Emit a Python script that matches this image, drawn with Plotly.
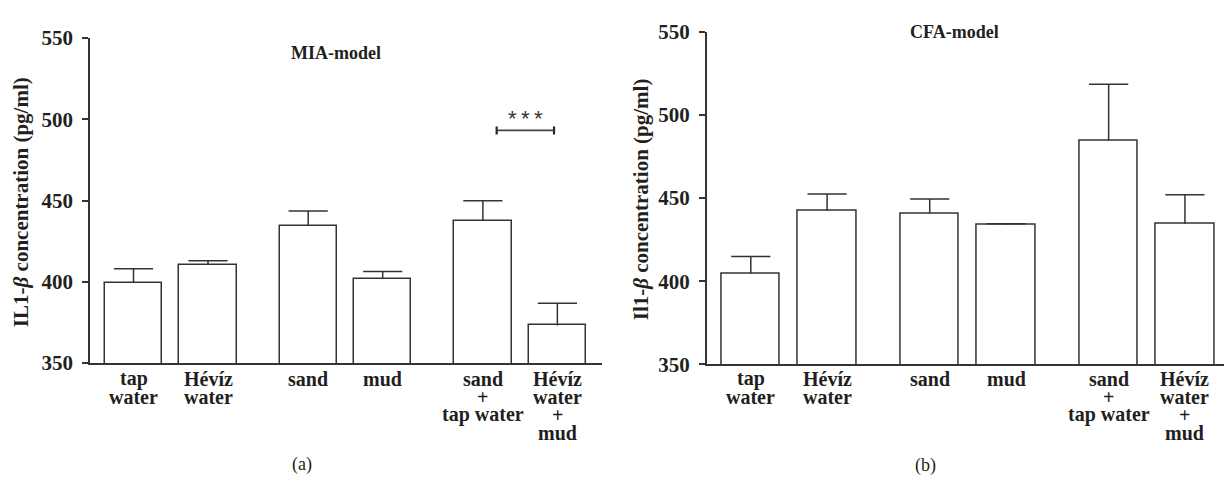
import plotly.graph_objects as go

# ---------------- data ----------------
categories = ["tap\nwater", "Hévíz\nwater", "sand", "mud", "sand\n+\ntap water", "Hévíz\nwater\n+\nmud"]
mia_values = [399.3, 410.6, 434.4, 401.8, 437.7, 373.2]
mia_errors = [8.8, 2.3, 9.2, 4.5, 12.1, 13.6]
cfa_values = [404.7, 442.4, 440.7, 433.8, 484.5, 434.6]
cfa_errors = [10.1, 10.1, 8.7, 0.8, 33.9, 17.4]
y_ticks = [350, 400, 450, 500, 550]
sig_level = 493.1
sig_label = "*\u2009*\u2009*"

# ---------------- layout helpers ----------------
W, H = 1224, 487
group_step = 2.345
xpos = [g * group_step + m for g in range(3) for m in range(2)]
TEXT = "#231f20"
LINE = "#333333"
SERIF = "Liberation Serif"

fig = go.Figure()

def add_panel(values, errors, xa, ya):
    fig.add_trace(go.Bar(
        x=xpos, y=values, width=0.77, xaxis=xa, yaxis=ya,
        marker=dict(color="white", line=dict(color=LINE, width=1.5)),
        showlegend=False, hoverinfo="skip"))
    tops = [v + e for v, e in zip(values, errors)]
    # vertical whisker (no caps) from bar top up to mean+SE
    fig.add_trace(go.Scatter(
        x=xpos, y=tops, mode="markers", xaxis=xa, yaxis=ya,
        marker=dict(symbol="line-ew", size=28, color=LINE,
                    line=dict(color=LINE, width=1.5)),
        error_y=dict(type="data", symmetric=False, array=[0] * len(errors),
                     arrayminus=errors, width=0, thickness=1.5, color=LINE),
        showlegend=False, hoverinfo="skip"))

add_panel(mia_values, mia_errors, "x", "y")
add_panel(cfa_values, cfa_errors, "x2", "y2")

# significance bracket (MIA panel)
sig_x = [xpos[4] + 0.185, xpos[5] - 0.045]
fig.add_trace(go.Scatter(
    x=sig_x, y=[sig_level, sig_level], mode="lines", xaxis="x", yaxis="y",
    line=dict(color="#444", width=1.8),
    error_y=dict(type="data", array=[2.5, 2.5], width=0, thickness=2.2, color="#222"),
    showlegend=False, hoverinfo="skip"))

def px2py(p):
    return 1 - p / H

xaxis_common = dict(showline=True, linecolor=LINE, linewidth=1.5, showgrid=False,
                    zeroline=False, showticklabels=False, ticks="", fixedrange=True)
yaxis_common = dict(showline=True, linecolor=LINE, linewidth=1.5, showgrid=False,
                    zeroline=False, ticks="outside", ticklen=6, tickwidth=1.5,
                    tickcolor=LINE, tickvals=y_ticks, range=[350, 550],
                    ticklabelstandoff=5,
                    tickfont=dict(family=SERIF, size=21, color=TEXT, weight="bold"))

fig.update_layout(
    width=W, height=H, margin=dict(l=0, r=0, t=0, b=0),
    paper_bgcolor="white", plot_bgcolor="white",
    bargap=0,
    xaxis=dict(domain=[90 / W, 601.7 / W], range=[-0.584, 6.285], anchor="y", **xaxis_common),
    yaxis=dict(domain=[px2py(369.3), px2py(27.3)], anchor="x", **yaxis_common),
    xaxis2=dict(domain=[706.7 / W, 1.0], range=[-0.578, 6.202], anchor="y2", **xaxis_common),
    yaxis2=dict(domain=[px2py(370.7), px2py(20.7)], anchor="x2", **yaxis_common),
)

ann = []
# category labels, one annotation per line for tight line spacing
for xa in ["x", "x2"]:
    for xp, cat in zip(xpos, categories):
        for i, line in enumerate(cat.split("\n")):
            ann.append(dict(x=xp, y=px2py(386 + 18.8 * i), xref=xa, yref="paper",
                            text=line, showarrow=False, xanchor="center", yanchor="middle",
                            font=dict(family=SERIF, size=20, color=TEXT, weight="bold")))

# panel titles
ann.append(dict(x=336 / W, y=px2py(43), xref="paper", yref="paper", text="MIA-model",
                showarrow=False, xanchor="center", yanchor="middle",
                font=dict(family=SERIF, size=18, color=TEXT, weight="bold")))
ann.append(dict(x=954.6 / W, y=px2py(20.7), xref="paper", yref="paper", text="CFA-model",
                showarrow=False, xanchor="center", yanchor="middle",
                font=dict(family=SERIF, size=18, color=TEXT, weight="bold")))

# y-axis titles
ann.append(dict(x=21 / W, y=px2py(200), xref="paper", yref="paper",
                text="IL1-<i>β</i> concentration (pg/ml)", textangle=-90,
                showarrow=False, xanchor="center", yanchor="middle",
                font=dict(family=SERIF, size=21, color=TEXT, weight="bold")))
ann.append(dict(x=641 / W, y=px2py(197), xref="paper", yref="paper",
                text="Il1-<i>β</i> concentration (pg/ml)", textangle=-90,
                showarrow=False, xanchor="center", yanchor="middle",
                font=dict(family=SERIF, size=21, color=TEXT, weight="bold")))

# significance stars
ann.append(dict(x=sum(sig_x) / 2, y=sig_level, xref="x", yref="y", yshift=12,
                text=sig_label, showarrow=False, xanchor="center", yanchor="middle",
                font=dict(family="Liberation Sans", size=22, color="#333")))

# panel letters
ann.append(dict(x=302 / W, y=px2py(476), xref="paper", yref="paper", text="(a)",
                showarrow=False, xanchor="center", yanchor="middle",
                font=dict(family=SERIF, size=18, color=TEXT)))
ann.append(dict(x=925 / W, y=px2py(477), xref="paper", yref="paper", text="(b)",
                showarrow=False, xanchor="center", yanchor="middle",
                font=dict(family=SERIF, size=18, color=TEXT)))

fig.update_layout(annotations=ann)
fig.write_html("out.html")
